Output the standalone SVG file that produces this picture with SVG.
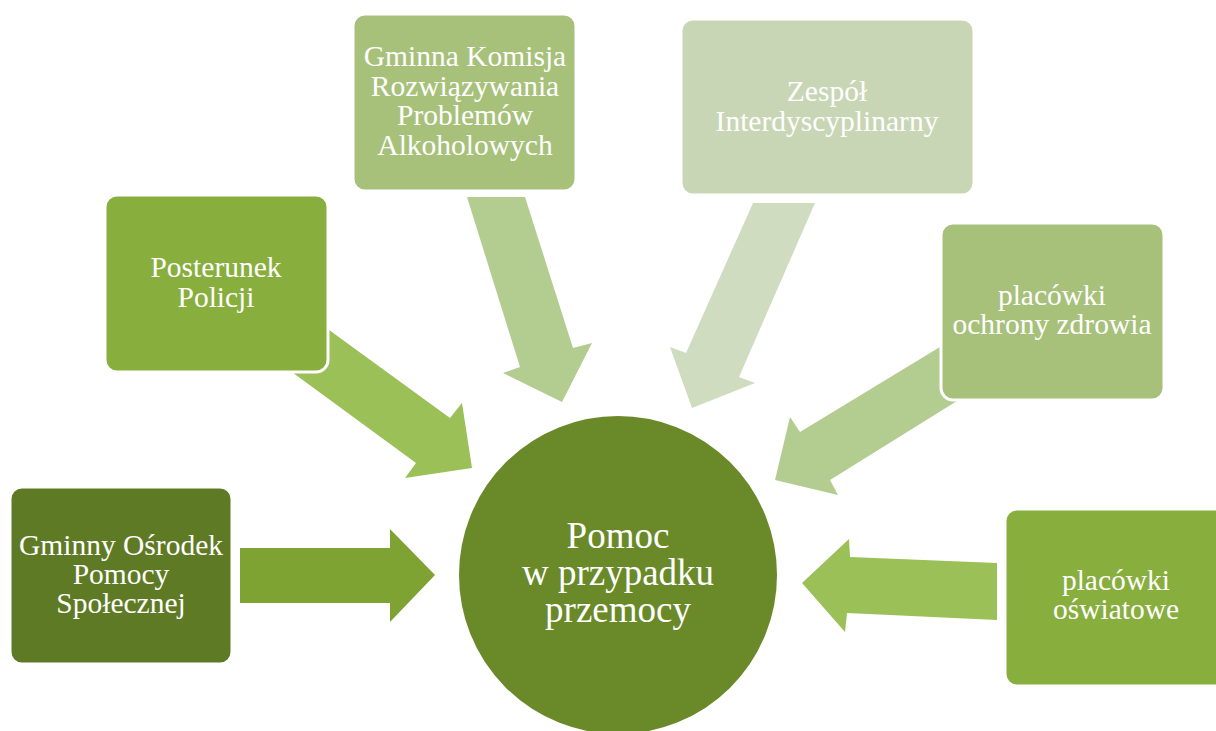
<svg xmlns="http://www.w3.org/2000/svg" width="1216" height="731" viewBox="0 0 1216 731">
<style>
.box{stroke:#ffffff;stroke-width:3}
.t{font-family:"Liberation Serif","Times New Roman",serif;fill:#ffffff;text-anchor:middle;font-size:29.5px}
.tc{font-family:"Liberation Serif","Times New Roman",serif;fill:#ffffff;text-anchor:middle;font-size:37px}
</style>
<rect width="1216" height="731" fill="#ffffff"/>
<g id="connectors">
<polygon fill="#7fa332" points="240,548 390,548 390,529 435,575 390,622 390,603 240,603"/>
<polygon fill="#9bc058" points="303,311 450,418 462,403 472,468 405,478 416,463 270,356"/>
<polygon fill="#b3cc8f" points="467,197 525,197 573,348 592,343 562,402 503,373 520,367"/>
<polygon fill="#cfdcbf" points="753,203 815,203 739,377 755,383 692,408 670,347 686,353"/>
<polygon fill="#b3cc8f" points="958,336 800,432 790,417 775,480 838,495 830,480 973,391"/>
<polygon fill="#9bc058" points="997,563 850,557 849,539 802,583 845,632 847,613 997,620"/>
</g>
<g id="node-gops">
<rect class="box" x="10" y="487" width="222" height="177" rx="12" fill="#5f7a24"/>
<text class="t" x="121" y="555">Gminny Ośrodek</text>
<text class="t" x="121" y="584">Pomocy</text>
<text class="t" x="121" y="613">Społecznej</text>
</g>
<g id="node-policja">
<rect class="box" x="105" y="195" width="223" height="177" rx="12" fill="#88ae3e"/>
<text class="t" x="216" y="277">Posterunek</text>
<text class="t" x="216" y="307">Policji</text>
</g>
<g id="node-gkrpa">
<rect class="box" x="353" y="14" width="223" height="177" rx="12" fill="#a7c17b"/>
<text class="t" x="465" y="66">Gminna Komisja</text>
<text class="t" x="465" y="96">Rozwiązywania</text>
<text class="t" x="465" y="125">Problemów</text>
<text class="t" x="465" y="155">Alkoholowych</text>
</g>
<g id="node-zespol">
<rect class="box" x="681" y="19" width="293" height="176" rx="12" fill="#c9d6b5"/>
<text class="t" x="827" y="101">Zespół</text>
<text class="t" x="827" y="131">Interdyscyplinarny</text>
</g>
<g id="node-zdrowie">
<rect class="box" x="941" y="223" width="223" height="177" rx="12" fill="#a7c17b"/>
<text class="t" x="1052" y="305">placówki</text>
<text class="t" x="1052" y="334">ochrony zdrowia</text>
</g>
<g id="node-oswiata">
<rect class="box" x="1005" y="509" width="223" height="177" rx="12" fill="#88ae3e"/>
<text class="t" x="1116" y="590">placówki</text>
<text class="t" x="1116" y="619">oświatowe</text>
</g>
<g id="node-center">
<circle cx="618" cy="575" r="160" fill="#6a8a2a" stroke="#ffffff" stroke-width="2"/>
<text class="tc" x="618" y="548">Pomoc</text>
<text class="tc" x="618" y="585">w przypadku</text>
<text class="tc" x="618" y="622">przemocy</text>
</g>
</svg>
